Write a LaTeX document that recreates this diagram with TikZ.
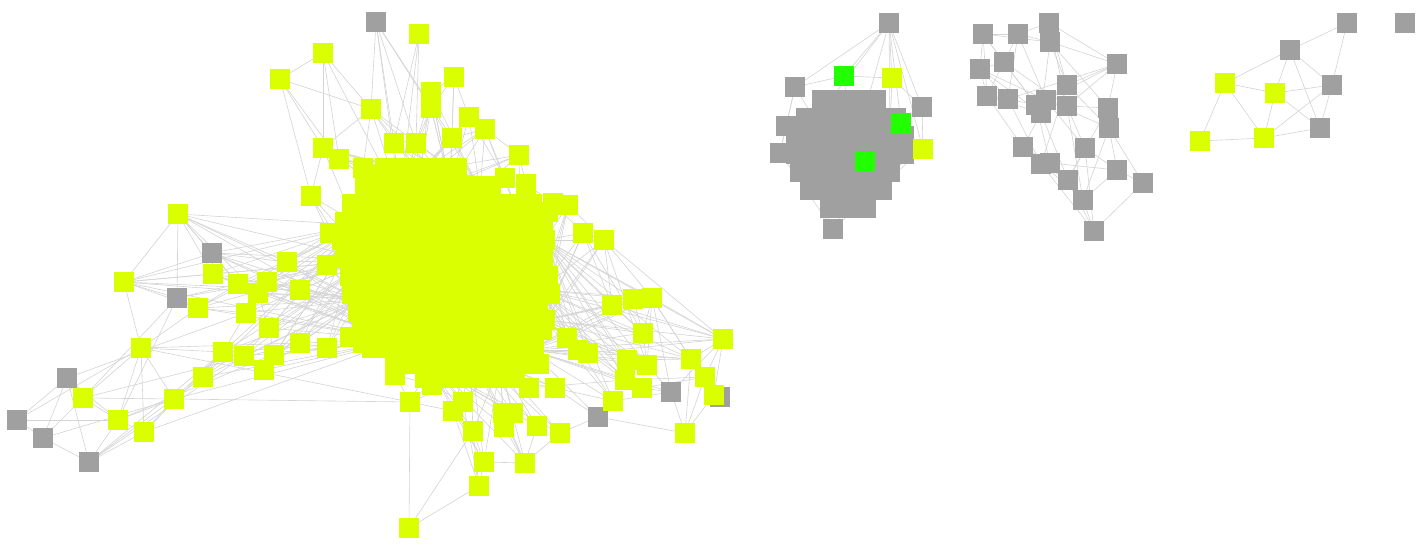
\documentclass[tikz,border=0pt]{standalone}
\usetikzlibrary{backgrounds}

\definecolor{ylime}{RGB}{217,255,0}
\definecolor{ngray}{RGB}{160,160,160}
\definecolor{ngreen}{RGB}{34,255,0}
\definecolor{lgray}{RGB}{212,212,212}

\begin{document}
\begin{tikzpicture}[x=0.02cm, y=-0.02cm,
  box/.style={rectangle, minimum size=0.4cm, inner sep=0pt, outer sep=0pt},
  lime/.style={box, fill=ylime},
  grey/.style={box, fill=ngray},
  hit/.style={box, fill=ngreen},
  link/.style={draw=lgray, line width=0.35pt}]

  \useasboundingbox (0,0) rectangle (1428,550);

  % Componente principal: nucleo denso
  \foreach \yy/\xa/\xb [count=\r] in {168/385/465, 186/365/495, 204/352/540,
      222/345/545, 240/342/550, 258/345/552, 276/350/555, 294/352/555,
      312/358/555, 330/362/550, 348/372/545, 364/395/540, 378/425/515}{
    \pgfmathtruncatemacro\xs{\xa+18}
    \foreach \xx [count=\k] in {\xa,\xs,...,\xb}
      \node[lime] (c-\r-\k) at (\xx,\yy) {};
  }
  \foreach \n/\x/\y in {h1/400/200, h2/450/185, h3/520/220, h4/370/260,
      h5/460/270, h6/540/290, h7/400/340, h8/470/350, h9/530/350,
      h10/545/240, h11/545/320, h12/360/300, h13/360/225, h14/430/365,
      h15/500/365, h16/420/172, h17/480/190}
    \node[lime] (\n) at (\x,\y) {};

  % Componente principal: periferia
  \foreach \n/\x/\y in {a1/376/22, a28/212/253, a31/177/298, a52/67/378,
      a55/17/420, a58/43/438, a59/89/462, a89/598/417, a90/671/392, a94/720/397}
    \node[grey] (\n) at (\x,\y) {};
  \foreach \n/\x/\y in {a2/419/34, a3/323/53, a4/280/79, a5/454/77, a6/431/92,
      a7/431/108, a8/371/109, a9/469/117, a10/485/129, a11/394/143, a12/416/143,
      a13/452/138, a14/323/148, a15/339/159, a16/363/168, a17/519/155,
      a18/505/178, a19/526/184, a20/553/203, a21/568/205, a22/548/212,
      a23/583/233, a24/604/240, a25/311/196, a26/383/175, a27/178/214,
      a29/213/274, a30/124/282, a32/198/308, a33/238/284, a34/287/262,
      a35/267/282, a36/258/293, a37/300/290, a38/246/313, a39/269/328,
      a40/300/343, a41/327/348, a42/223/352, a43/244/356, a44/274/355,
      a45/264/370, a46/203/377, a47/141/348, a48/330/233, a49/327/265,
      a50/350/337, a51/363/343, a53/83/398, a54/174/399, a56/118/420,
      a57/144/432, a60/395/375, a61/410/402, a62/432/385, a63/453/411,
      a64/463/402, a65/473/431, a66/503/413, a67/513/413, a68/504/427,
      a69/529/388, a70/555/388, a71/537/426, a72/560/433, a73/484/462,
      a74/479/486, a75/525/463, a76/409/528, a77/567/338, a78/578/350,
      a79/588/353, a80/612/305, a81/633/299, a82/652/298, a83/643/333,
      a84/627/360, a85/647/365, a86/625/380, a87/642/388, a88/613/401,
      a91/723/339, a92/691/359, a93/705/377, a95/714/395, a96/685/433}
    \node[lime] (\n) at (\x,\y) {};

  % Segundo componente: bloco cinza
  \foreach \yy/\xa/\xb [count=\r] in {100/822/888, 118/806/904, 136/796/910,
      154/796/910, 172/800/906, 190/810/896, 208/830/880}{
    \pgfmathtruncatemacro\xs{\xa+18}
    \foreach \xx [count=\k] in {\xa,\xs,...,\xb}
      \node[grey] (bg-\r-\k) at (\xx,\yy) {};
  }
  \foreach \n/\x/\y in {bh/852/157, bh1/815/120, bh2/890/130, bh3/850/200,
      b1/889/23, b4/795/87, b5/922/107, b6/786/126, b9/780/153, b11/833/229}
    \node[grey] (\n) at (\x,\y) {};
  \foreach \n/\x/\y in {b2/844/76, b7/901/123, b10/865/161}
    \node[hit] (\n) at (\x,\y) {};
  \foreach \n/\x/\y in {b3/892/78, b8/923/149}
    \node[lime] (\n) at (\x,\y) {};

  % Terceiro componente
  \foreach \n/\x/\y in {d1/983/34, d2/1018/34, d3/1049/23, d4/1050/42,
      d5/1004/62, d6/980/69, d7/1117/64, d8/1067/85, d9/987/96, d10/1008/99,
      d11/1036/105, d12/1046/100, d13/1041/113, d14/1067/106, d15/1108/108,
      d16/1109/128, d17/1023/147, d18/1085/148, d19/1041/164, d20/1050/163,
      d21/1068/180, d22/1117/170, d23/1143/183, d24/1083/200, d25/1094/231}
    \node[grey] (\n) at (\x,\y) {};

  % Quarto componente e no isolado
  \foreach \n/\x/\y in {e1/1347/23, e2/1405/23, e3/1290/50, e6/1332/85, e7/1320/128}
    \node[grey] (\n) at (\x,\y) {};
  \foreach \n/\x/\y in {e4/1225/83, e5/1275/93, e8/1264/138, e9/1200/141}
    \node[lime] (\n) at (\x,\y) {};

  % Arestas
  \begin{pgfonlayer}{background}
    % feixes ate o nucleo
    \foreach \p in {a29,a32,a33,a34,a35,a36,a37,a38,a39,a40,a41,a42,a43,a44,
        a45,a46,a48,a49,a50,a51,a25,a27,a28,a30}
      \foreach \q in {h4,h7,h12,h13}
        \draw[link] (\p) -- (\q);
    \foreach \p in {a77,a78,a79,a80,a81,a82,a83,a84,a85,a86,a87,a88,a23,a24,
        a20,a21,a22,a91,a92}
      \foreach \q in {h6,h9,h10,h11}
        \draw[link] (\p) -- (\q);
    \foreach \p in {a60,a61,a62,a63,a64,a65,a66,a67,a68,a69,a70,a71,a72,a73,a75}
      \foreach \q in {h14,h15,h8}
        \draw[link] (\p) -- (\q);
    \foreach \p in {a8,a9,a10,a11,a12,a13,a14,a15,a16,a17,a18,a19,a26,a6,a7}
      \foreach \q in {h16,h17,h1,h2}
        \draw[link] (\p) -- (\q);
    \foreach \p/\q in {h1/h2, h2/h3, h1/h4, h4/h7, h5/h6, h7/h8, h8/h9, h3/h6,
        h6/h9, h1/h5, h5/h8,
        a1/a8, a1/a11, a1/a12, a1/a7, a1/h1, a1/a13, a2/a12, a2/a11, a2/h1,
        a3/a4, a3/a8, a3/a14, a3/a15, a3/h1, a4/a8, a4/a14, a4/a25, a4/a15,
        a5/a7, a5/a13, a5/a9, a5/h2, a5/a6, a6/h2, a7/a12, a7/h2,
        a8/a11, a8/a16, a8/a14, a9/a13, a9/a18,
        a10/a17, a10/h3, a10/a18, a10/a13,
        a14/a25, a14/a15, a14/h4, a15/a16, a16/h4,
        a17/a19, a17/h3, a18/h3, a19/a20, a19/h3, a20/h3, a20/a23,
        a21/a24, a23/a24, a23/a80, a23/a83,
        a24/a80, a24/a82, a24/a91, a24/a85,
        a27/a28, a27/a30, a27/a29, a27/a31, a27/a33, a27/a34,
        a27/a36, a28/a30, a28/a29, a28/a33, a28/a34, a28/a37,
        a29/a33, a29/a36, a30/a31, a30/a29, a30/a47, a30/a37,
        a30/a32, a31/a32, a31/a33, a31/a53, a31/a56, a31/a35,
        a32/a33, a32/a38, a33/a35, a34/a48,
        a36/a39, a38/a42, a39/a44, a40/a41, a43/a45, a44/a41, a46/a42,
        a35/a49, a37/a49, a47/a40, a47/a53, a47/a54, a47/a56, a47/a57,
        a47/a42, a47/a32, a47/a61, a52/a53, a52/a56, a52/a55, a52/a58,
        a52/a59, a52/a38, a53/a54, a53/a56, a53/a58, a53/a40,
        a54/a56, a54/a57, a54/a42, a54/h7, a54/a61, a55/a56, a55/a58, a55/a47,
        a56/a57, a56/a59, a56/a40, a57/a59, a57/a42, a57/h7, a58/a59, a58/a54,
        a59/a42, a59/a43, a59/a46, a60/a61, a60/a62,
        a61/a76, a61/a63, a62/a64,
        a73/a74, a73/a75, a73/a63, a73/a65, a74/a76, a74/a65,
        a74/a64, a74/a63, a75/a72, a75/a71, a75/a68, a75/a66, a76/a65,
        a89/h9, a90/h9,
        a82/a91, a82/a92, a82/a95, a82/a90, a82/a83, a82/a85, a81/a83,
        a80/a83, a83/a85, a91/a92, a91/a95, a91/a93, a91/a90, a91/a80,
        a92/a96, a93/a96, a90/a96, a95/a96, a89/a96, a89/a88, a89/a70,
        a90/a87, a90/a85, a94/a92, a84/a92, a86/a93, a87/a93, a88/a90,
        a79/a91, a78/a92, a77/a82, a72/a89, a70/a88, a69/a86}
      \draw[link] (\p) -- (\q);
    \foreach \p/\q in {b1/b2, b1/b3, b1/b4, b1/b5, b1/b8, b1/bh, b1/b7,
        b1/bh1, b1/bh2, b4/b2, b4/b6, b4/bh1, b6/b9, b6/bh1, b9/b11, b9/bh3,
        b11/bh3, b11/b8, b5/b8, b5/b3, b5/bh2, b8/bh2, b2/b3, b6/b11, b4/b9,
        b2/bh, b3/bh2, b8/bh3}
      \draw[link] (\p) -- (\q);
    \foreach \p/\q in {d1/d2, d1/d5, d1/d6, d1/d9, d1/d4, d1/d11, d2/d3,
        d2/d4, d2/d5, d2/d10, d2/d12, d3/d4, d3/d7, d3/d8, d4/d7, d4/d8,
        d4/d13, d4/d15, d5/d6, d5/d9, d5/d11, d5/d14, d6/d9, d6/d10, d6/d12,
        d7/d8, d7/d14, d7/d11, d7/d15, d7/d10, d8/d12, d8/d16, d8/d19,
        d9/d10, d9/d17, d9/d13, d10/d11, d10/d19, d11/d13, d11/d20,
        d12/d14, d12/d18, d13/d21, d13/d17, d14/d15, d14/d18, d14/d24,
        d15/d16, d15/d21, d16/d22, d16/d23, d16/d24, d17/d19, d17/d20,
        d17/d24, d18/d22, d18/d21, d19/d21, d19/d25, d20/d24, d20/d22,
        d21/d24, d21/d25, d22/d23, d22/d24, d23/d25, d24/d25, d18/d25,
        d12/d16, d6/d13, d3/d14}
      \draw[link] (\p) -- (\q);
    \foreach \p/\q in {e1/e3, e1/e6, e3/e4, e3/e5, e3/e7, e3/e6, e4/e5,
        e4/e8, e4/e9, e5/e6, e5/e8, e5/e7, e6/e8, e6/e7, e8/e7, e8/e9}
      \draw[link] (\p) -- (\q);
  \end{pgfonlayer}

\end{tikzpicture}
\end{document}
